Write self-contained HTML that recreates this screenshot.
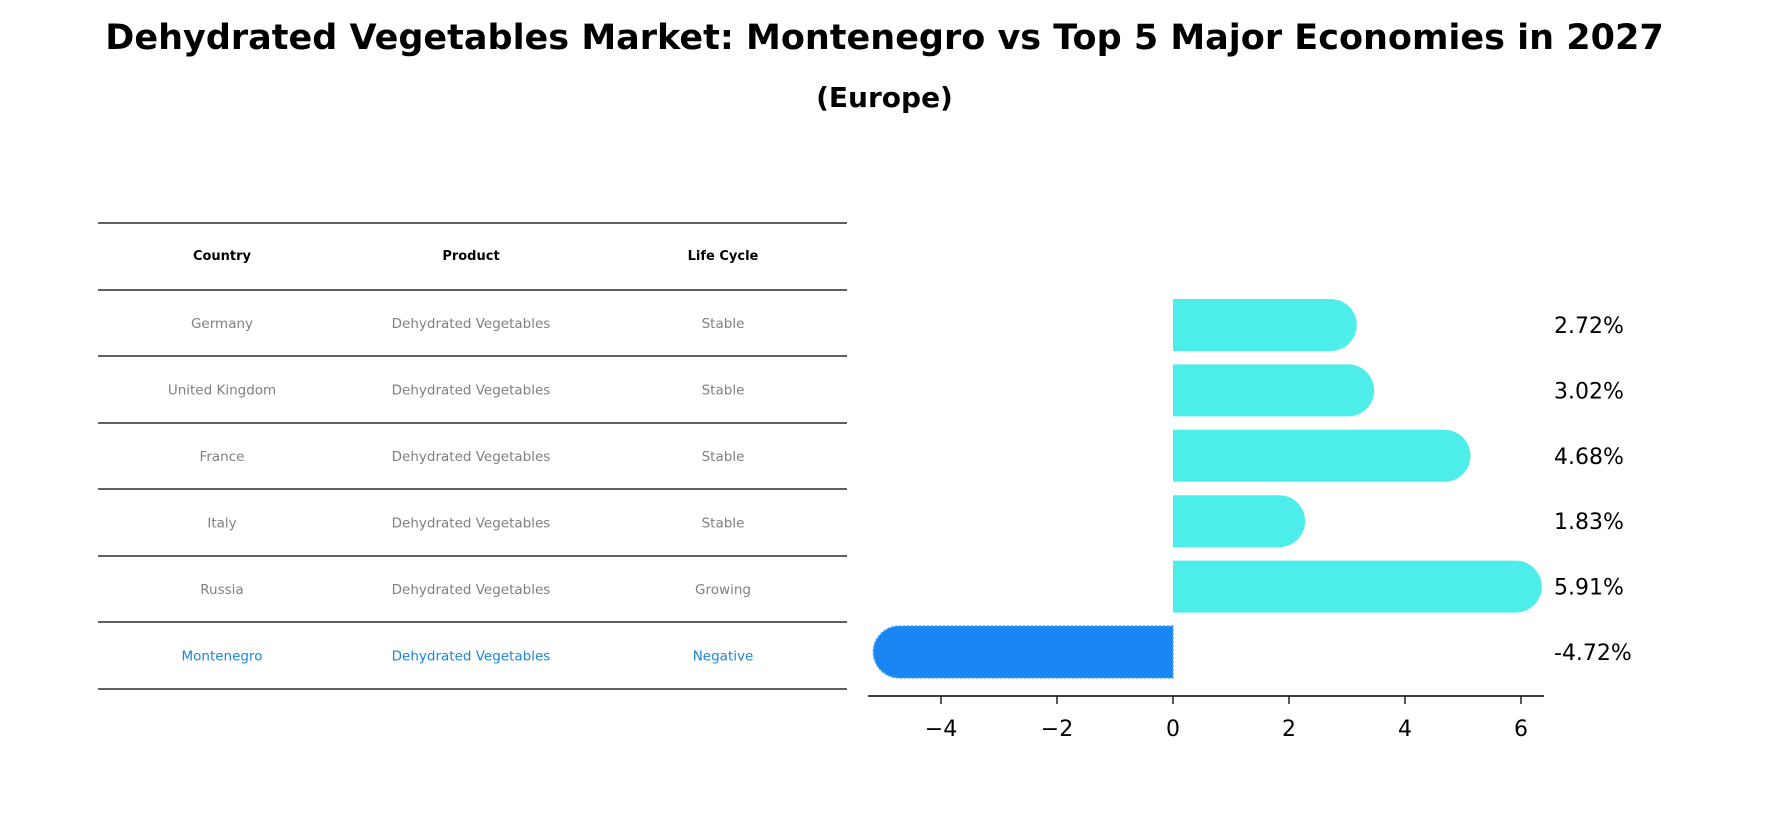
<!DOCTYPE html>
<html><head><meta charset="utf-8"><style>
body{margin:0;background:#fff;font-family:"Liberation Sans","DejaVu Sans",sans-serif;}
#wrap{position:relative;width:1769px;height:823px;overflow:hidden;}
.t{position:absolute;left:0;width:1769px;text-align:center;font-weight:bold;color:#000;}
</style></head><body>
<div id="wrap">
<div class="t" style="top:18px;font-size:35px;font-family:'DejaVu Sans',sans-serif">Dehydrated Vegetables Market: Montenegro vs Top 5 Major Economies in 2027</div>
<div class="t" style="top:81px;font-size:28px;font-family:'DejaVu Sans',sans-serif">(Europe)</div>
<svg id="svg" width="1769" height="823" style="position:absolute;left:0;top:0" font-family="DejaVu Sans, sans-serif"></svg>
</div>
<script>
const countries=["Germany","United Kingdom","France","Italy","Russia","Montenegro"];
const products=["Dehydrated Vegetables","Dehydrated Vegetables","Dehydrated Vegetables","Dehydrated Vegetables","Dehydrated Vegetables","Dehydrated Vegetables"];
const lifecycles=["Stable","Stable","Stable","Growing","Growing","Negative"];
lifecycles[3]="Stable";
const values=[2.72,3.02,4.68,1.83,5.91,-4.72];
const ticks=[-4,-2,0,2,4,6];
const NS="http://www.w3.org/2000/svg";
const svg=document.getElementById('svg');
function mk(tag,attrs,parent){const e=document.createElementNS(NS,tag);for(const k in attrs)e.setAttribute(k,attrs[k]);(parent||svg).appendChild(e);return e;}
const x=v=>1173+v*58;
const rowY=i=>325+i*65.4;
const barH=52,r=26;
// table
const lineYs=[223,290,356,423,489,556,622,689];
lineYs.forEach((y,i)=>{const l=mk('line',{x1:98,x2:847,y1:y,y2:y,stroke:'#000','stroke-width':1.2});

});
const colX=[222,471,723];
["Country","Product","Life Cycle"].forEach((h,j)=>{const t=mk('text',{x:colX[j],y:260,'text-anchor':'middle','font-size':13,'font-weight':'bold',fill:'#000'});t.textContent=h;

});
countries.forEach((c,i)=>{const y=(lineYs[i+1]+lineYs[i+2])/2+5;const col=i==5?'#1a86e0':'#808080';
[c,products[i],lifecycles[i]].forEach((s,j)=>{const t=mk('text',{x:colX[j],y:y,'text-anchor':'middle','font-size':13.5,fill:col});t.textContent=s;

});});
// bars
values.forEach((v,i)=>{const cy=rowY(i);const x0=x(0),x1=x(v);const neg=v<0;const col=neg?'#1a86f4':'#4deeea';
const left=Math.min(x0,x1)-(neg?r:0),w=Math.abs(x1-x0)+r;
let d;
if(!neg){d=`M${x0},${cy-barH/2} H${x1} A${r},${r} 0 0 1 ${x1},${cy+barH/2} H${x0} Z`;}
else{d=`M${x0},${cy-barH/2} H${x1} A${r},${r} 0 0 0 ${x1},${cy+barH/2} H${x0} Z`;}
const p=mk('path',{d:d,fill:col});
if(neg){p.setAttribute('stroke','#4da8f8');p.setAttribute('stroke-dasharray','2,2');p.setAttribute('stroke-width','1.5');}


const t=mk('text',{x:1554,y:cy+8,'font-size':22,fill:'#000'});t.textContent=v.toFixed(2)+'%';

});
// axis
const ax=mk('line',{x1:868,x2:1544,y1:696,y2:696,stroke:'#000','stroke-width':1.5});


ticks.forEach(tv=>{const tk=mk('line',{x1:x(tv),x2:x(tv),y1:696,y2:704,stroke:'#000','stroke-width':1.3});


const t=mk('text',{x:x(tv),y:736,'text-anchor':'middle','font-size':22,fill:'#000'});t.textContent=tv<0?'\u2212'+Math.abs(tv):String(tv);

});
</script>
</body></html>
